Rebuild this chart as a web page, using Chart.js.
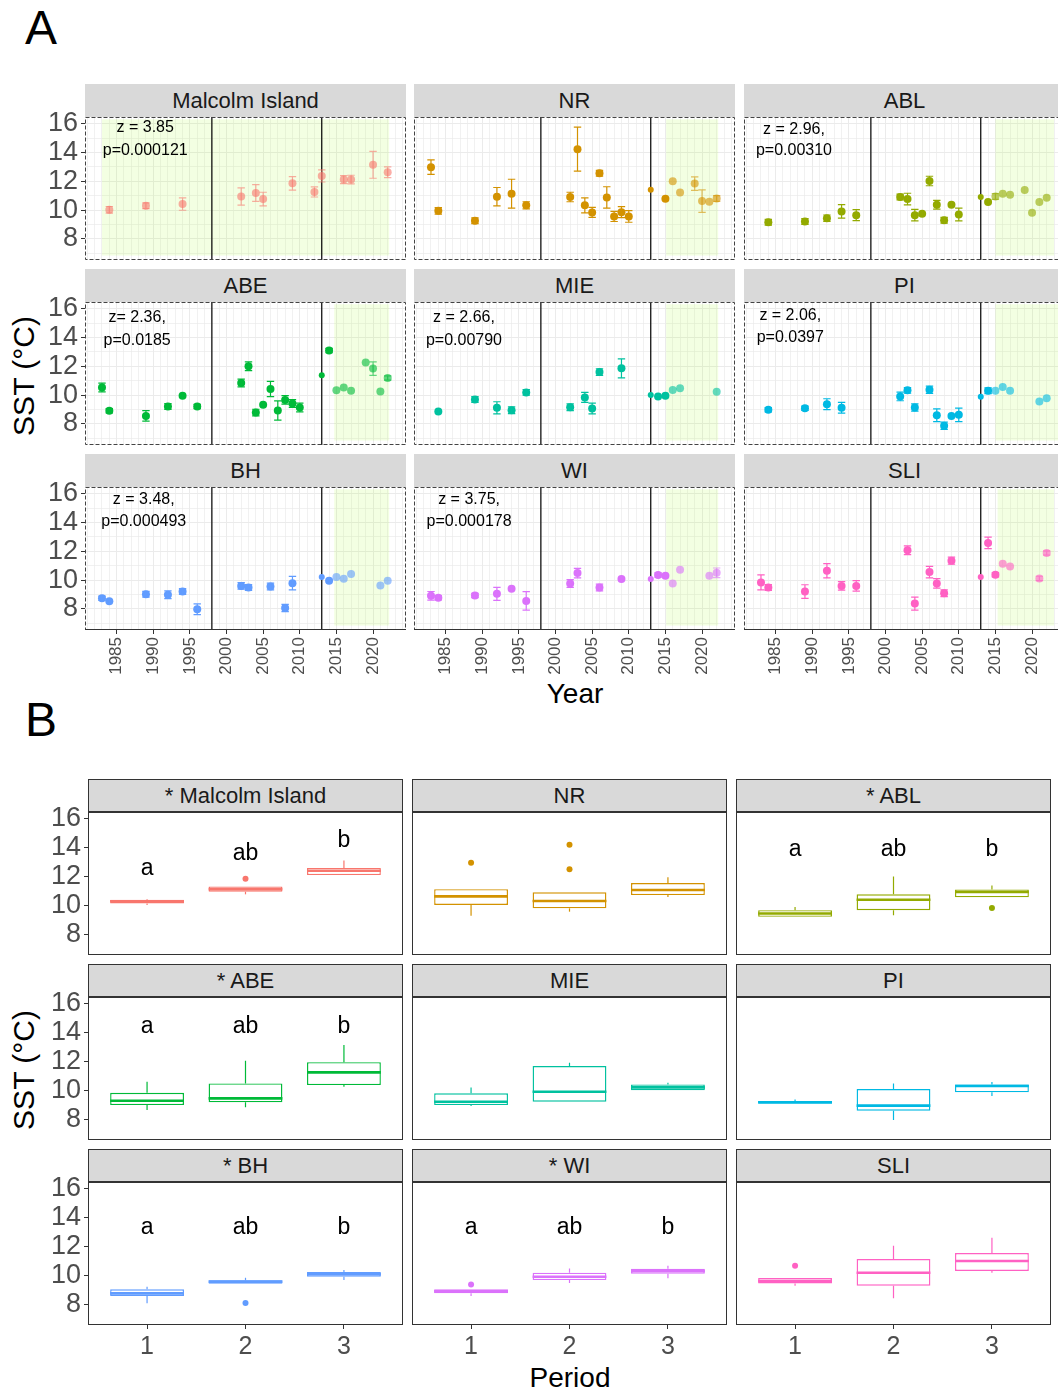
<!DOCTYPE html>
<html>
<head>
<meta charset="utf-8">
<script src="https://cdn.jsdelivr.net/npm/chart.js@4.4.1/dist/chart.umd.min.js"></script>
<style>
  html, body { margin: 0; padding: 0; background: #fff; }
  body { width: 1058px; height: 1391px; position: relative; overflow: hidden; font-family: "Liberation Sans", Arial, sans-serif; }
  canvas { position: absolute; }
  .strip { position: absolute; background: #d9d9d9; color: #1a1a1a; font-size: 22px; display: flex; align-items: center; justify-content: center; box-sizing: border-box; }
  .strip.b { border: 1px solid #333; }
  .lbl { position: absolute; transform: translate(-50%, -50%); white-space: nowrap; line-height: 1; color: #000; }
</style>
</head>
<body>
<div class="lbl" style="left:41px; top:28px; font-size:48px;">A</div>
<div class="lbl" style="left:41px; top:720px; font-size:48px;">B</div>
<div class="lbl" style="left:24px; top:376px; font-size:30px; transform:translate(-50%,-50%) rotate(-90deg);">SST (°C)</div>
<div class="lbl" style="left:24px; top:1070px; font-size:30px; transform:translate(-50%,-50%) rotate(-90deg);">SST (°C)</div>
<div class="lbl" style="left:575px; top:694px; font-size:28px;">Year</div>
<div class="lbl" style="left:570px; top:1378px; font-size:28px;">Period</div>

<script>
// ---- data ----
const sites = ['Malcolm Island', 'NR', 'ABL', 'ABE', 'MIE', 'PI', 'BH', 'WI', 'SLI'];
const boxTitles = ['* Malcolm Island', 'NR', '* ABL', '* ABE', 'MIE', 'PI', '* BH', '* WI', 'SLI'];
const siteColors = ['#F8766D', '#D39200', '#93AA00', '#00BA38', '#00C19F', '#00B9E3', '#619CFF', '#DB72FB', '#FF61C3'];

const yearLabels = [1985, 1990, 1995, 2000, 2005, 2010, 2015, 2020];
const sstLabels = [8, 10, 12, 14, 16];
const periods = [1, 2, 3];
const periodBreaks = [1998, 2013];

// [year, mean SST, error, kind]  kind: 0 = full colour, 1 = pale, 2 = small point on the break
const mi = [[1984, 10.02, 0.23, 1], [1989, 10.30, 0.2, 1], [1994, 10.42, 0.43, 1], [2002, 10.95, 0.6, 1], [2004, 11.19, 0.58, 1],
  [2005, 10.77, 0.47, 1], [2009, 11.86, 0.47, 1], [2012, 11.26, 0.35, 1], [2013, 12.37, 0.42, 1], [2016, 12.12, 0.28, 1],
  [2017, 12.12, 0.3, 1], [2020, 13.14, 0.93, 1], [2022, 12.63, 0.37, 1]];
const nr = [[1983, 12.98, 0.5, 0], [1984, 9.95, 0.23, 0], [1989, 9.26, 0.2, 0], [1992, 10.93, 0.64, 0], [1994, 11.14, 1.0, 0],
  [1996, 10.33, 0.25, 0], [2002, 10.91, 0.33, 0], [2003, 14.23, 1.53, 0], [2004, 10.33, 0.52, 0], [2005, 9.84, 0.35, 0],
  [2006, 12.56, 0.2, 0], [2007, 10.88, 0.74, 0], [2008, 9.56, 0.35, 0], [2009, 9.86, 0.38, 0], [2010, 9.56, 0.4, 0],
  [2013, 11.42, 0, 2], [2015, 10.79, 0, 0], [2016, 12.0, 0, 1], [2017, 11.23, 0, 1], [2019, 11.84, 0.47, 1],
  [2020, 10.63, 0.78, 1], [2021, 10.58, 0, 1], [2022, 10.81, 0.2, 1]];
const abl = [[1984, 9.16, 0.2, 0], [1989, 9.21, 0.2, 0], [1992, 9.44, 0.22, 0], [1994, 9.91, 0.47, 0], [1996, 9.65, 0.38, 0],
  [2002, 10.91, 0.2, 0], [2003, 10.77, 0.4, 0], [2004, 9.65, 0.4, 0], [2005, 9.74, 0, 0], [2006, 12.02, 0.33, 0],
  [2007, 10.37, 0.3, 0], [2008, 9.30, 0.2, 0], [2009, 10.37, 0, 0], [2010, 9.70, 0.44, 0], [2013, 10.91, 0, 2],
  [2014, 10.56, 0, 0], [2015, 10.95, 0.2, 1], [2016, 11.14, 0, 1], [2017, 11.07, 0, 1], [2019, 11.40, 0, 1],
  [2020, 9.81, 0, 1], [2021, 10.56, 0, 1], [2022, 10.86, 0, 1]];
const abe = [[1983, 10.53, 0.3, 0], [1984, 8.91, 0.15, 0], [1989, 8.56, 0.36, 0], [1992, 9.21, 0.2, 0], [1994, 9.95, 0, 0],
  [1996, 9.21, 0.15, 0], [2002, 10.84, 0.27, 0], [2003, 12.0, 0.3, 0], [2004, 8.79, 0.23, 0], [2005, 9.33, 0, 0],
  [2006, 10.42, 0.53, 0], [2007, 8.93, 0.67, 0], [2008, 9.67, 0.3, 0], [2009, 9.42, 0.27, 0], [2010, 9.14, 0.3, 0],
  [2013, 11.37, 0, 2], [2014, 13.09, 0.15, 0], [2015, 10.33, 0, 1], [2016, 10.53, 0, 1], [2017, 10.30, 0, 1],
  [2019, 12.26, 0, 1], [2020, 11.84, 0.47, 1], [2021, 10.26, 0, 1], [2022, 11.19, 0.15, 1]];
const mie = [[1984, 8.86, 0, 0], [1989, 9.70, 0.2, 0], [1992, 9.12, 0.42, 0], [1994, 8.95, 0.23, 0], [1996, 10.19, 0.2, 0],
  [2002, 9.16, 0.23, 0], [2004, 9.84, 0.35, 0], [2005, 9.07, 0.37, 0], [2006, 11.6, 0.23, 0], [2009, 11.86, 0.66, 0],
  [2013, 10.0, 0, 2], [2014, 9.91, 0, 0], [2015, 9.95, 0, 0], [2016, 10.35, 0, 1], [2017, 10.47, 0, 1], [2022, 10.23, 0, 1]];
const pi = [[1984, 8.98, 0.15, 0], [1989, 9.09, 0.15, 0], [1992, 9.37, 0.38, 0], [1994, 9.12, 0.37, 0], [2002, 9.91, 0.3, 0],
  [2003, 10.33, 0.2, 0], [2004, 9.14, 0.25, 0], [2006, 10.37, 0.25, 0], [2007, 8.6, 0.44, 0], [2008, 7.88, 0.25, 0],
  [2009, 8.56, 0, 0], [2010, 8.63, 0.47, 0], [2013, 9.88, 0, 2], [2014, 10.30, 0.2, 0], [2015, 10.30, 0, 1],
  [2016, 10.56, 0, 1], [2017, 10.30, 0, 1], [2021, 9.56, 0, 1], [2022, 9.79, 0, 1]];
const bh = [[1983, 8.74, 0.15, 0], [1984, 8.53, 0, 0], [1989, 9.02, 0.2, 0], [1992, 8.98, 0.27, 0], [1994, 9.21, 0.2, 0],
  [1996, 7.98, 0.37, 0], [2002, 9.6, 0.23, 0], [2003, 9.49, 0.2, 0], [2006, 9.56, 0.23, 0], [2008, 8.07, 0.25, 0],
  [2009, 9.79, 0.47, 0], [2013, 10.21, 0, 2], [2014, 9.95, 0, 0], [2015, 10.21, 0, 1], [2016, 10.09, 0, 1],
  [2017, 10.42, 0, 1], [2021, 9.63, 0, 1], [2022, 9.95, 0, 1]];
const wi = [[1983, 8.91, 0.3, 0], [1984, 8.77, 0.15, 0], [1989, 8.93, 0.15, 0], [1992, 9.05, 0.45, 0], [1994, 9.40, 0, 0],
  [1996, 8.56, 0.64, 0], [2002, 9.77, 0.27, 0], [2003, 10.49, 0.33, 0], [2006, 9.49, 0.23, 0], [2009, 10.07, 0, 0],
  [2013, 10.07, 0, 2], [2014, 10.35, 0.15, 0], [2015, 10.30, 0, 0], [2016, 9.77, 0, 1], [2017, 10.72, 0, 1],
  [2021, 10.30, 0, 1], [2022, 10.51, 0.33, 1]];
const sli = [[1983, 9.84, 0.52, 0], [1984, 9.49, 0.2, 0], [1989, 9.21, 0.47, 0], [1992, 10.65, 0.5, 0], [1994, 9.6, 0.3, 0],
  [1996, 9.6, 0.36, 0], [2003, 12.07, 0.3, 0], [2004, 8.37, 0.45, 0], [2006, 10.56, 0.4, 0], [2007, 9.77, 0.33, 0],
  [2008, 9.09, 0.23, 0], [2009, 11.35, 0.25, 0], [2013, 10.21, 0, 2], [2014, 12.58, 0.4, 0], [2015, 10.37, 0.15, 0],
  [2016, 11.14, 0, 1], [2017, 10.95, 0, 1], [2021, 10.12, 0.15, 1], [2022, 11.88, 0.15, 1]];
const trendSeries = [mi, nr, abl, abe, mie, pi, bh, wi, sli];

// shaded year span of each panel, and its SST extent
const shadeYears = [[1983, 2022.2], [2015.1, 2022.2], [2015, 2023], [2014.7, 2022.2], [2015.1, 2022.2],
  [2015, 2024], [2014.7, 2022.2], [2015.1, 2022.2], [2015.3, 2023]];
const shadeSst = [6.85, 16.3];

// [z text, p text, x, y of z, y of p]
const trendNotes = [['z = 3.85', 'p=0.000121', 1988.9, 15.72, 14.14], null, ['z = 2.96,', 'p=0.00310', 1987.5, 15.6, 14.14],
  ['z= 2.36,', 'p=0.0185', 1987.8, 15.37, 13.79], ['z = 2.66,', 'p=0.00790', 1987.5, 15.37, 13.79],
  ['z = 2.06,', 'p=0.0397', 1987.0, 15.49, 14.02], ['z = 3.48,', 'p=0.000493', 1988.7, 15.6, 14.09],
  ['z = 3.75,', 'p=0.000178', 1988.2, 15.6, 14.09], null];

// boxplots per period: [lower whisker, q1, median, q3, upper whisker]
const miBox = [[10.02, 10.12, 10.27, 10.38, 10.42], [10.75, 10.93, 11.11, 11.30, 11.30], [12.08, 12.08, 12.38, 12.58, 13.09]];
const nrBox = [[9.26, 10.01, 10.61, 11.11, 11.11], [9.55, 9.78, 10.29, 10.89, 10.89], [10.56, 10.70, 11.05, 11.53, 11.94]];
const ablBox = [[9.19, 9.19, 9.42, 9.65, 9.88], [9.30, 9.65, 10.38, 10.75, 11.99], [10.54, 10.54, 10.91, 11.09, 11.37]];
const abeBox = [[8.63, 8.97, 9.27, 9.82, 10.59], [8.81, 9.16, 9.43, 10.47, 12.04], [10.24, 10.35, 11.23, 11.94, 13.12]];
const mieBox = [[8.9, 8.97, 9.20, 9.78, 10.19], [9.2, 9.2, 9.89, 11.67, 11.9], [9.99, 9.99, 10.19, 10.40, 10.52]];
const piBox = [[9.06, 9.06, 9.16, 9.25, 9.36], [7.94, 8.58, 8.93, 10.08, 10.47], [9.6, 9.85, 10.29, 10.40, 10.56]];
const bhBox = [[8.05, 8.56, 8.74, 9.02, 9.2], [9.41, 9.41, 9.55, 9.64, 9.82], [9.66, 9.89, 10.06, 10.22, 10.35]];
const wiBox = [[8.56, 8.74, 8.88, 9.02, 9.02], [9.46, 9.66, 9.89, 10.17, 10.47], [9.78, 10.1, 10.29, 10.45, 10.65]];
const sliBox = [[9.27, 9.43, 9.59, 9.8, 9.8], [8.4, 9.27, 10.17, 11.12, 12.04], [10.17, 10.29, 10.98, 11.53, 12.59]];
const boxSeries = [miBox, nrBox, ablBox, abeBox, mieBox, piBox, bhBox, wiBox, sliBox];

// outliers: [period, SST]
const boxOutliers = [[[2, 11.83]], [[1, 12.93], [2, 14.19], [2, 12.49]], [[3, 9.81]], [], [], [], [[2, 8.07]], [[1, 9.36]], [[1, 10.65]]];

// compact letter display: letters and their SST heights per period
const boxLetters = [['a', 'ab', 'b'], null, ['a', 'ab', 'b'], ['a', 'ab', 'b'], null, null, ['a', 'ab', 'b'], ['a', 'ab', 'b'], null];
const letterSst = [[12.56, 13.6, 14.46], null, [13.84, 13.84, 13.84], [14.43, 14.43, 14.43], null, null,
  [13.28, 13.28, 13.28], [13.28, 13.28, 13.28], null];

// ---- layout ----
const A_COLS = [85, 414, 744], A_ROWS = [117, 302, 487], A_W = 321, A_H = 143;
const B_COLS = [88, 412, 736], B_ROWS = [812, 997, 1182], B_W = 315, B_H = 143;
const STRIP_H = 33;
const PAD = 20;
const FONT = '"Liberation Sans", Arial, sans-serif';
const YEAR_MIN = 1980.68, YEAR_MAX = 2024.5;
const SST_MIN = 6.54, SST_MAX = 16.46;

function fade(hex, a) {
  const n = parseInt(hex.slice(1), 16);
  return `rgba(${n >> 16}, ${(n >> 8) & 255}, ${n & 255}, ${a})`;
}

function addCanvas(left, top, w, h) {
  const c = document.createElement('canvas');
  c.width = w; c.height = h;
  c.style.left = left + 'px';
  c.style.top = top + 'px';
  c.style.width = w + 'px';
  c.style.height = h + 'px';
  document.body.appendChild(c);
  return c;
}

function addStrip(text, left, top, w, boxed) {
  const d = document.createElement('div');
  d.className = boxed ? 'strip b' : 'strip';
  d.style.left = left + 'px';
  d.style.top = top + 'px';
  d.style.width = w + 'px';
  d.style.height = STRIP_H + 'px';
  d.textContent = text;
  document.body.appendChild(d);
}

function baseOptions(padB) {
  return {
    responsive: false,
    animation: false,
    devicePixelRatio: 1,
    events: [],
    layout: { padding: { left: PAD, top: PAD, right: PAD, bottom: padB ? 0 : PAD } },
    plugins: { legend: { display: false }, tooltip: { enabled: false } }
  };
}

function trendChart(i) {
  const col = i % 3, row = Math.floor(i / 3);
  const padL = col === 0 ? 60 : 0;
  const padB = row === 2 ? 52 : 0;
  const canvas = addCanvas(A_COLS[col] - padL - PAD, A_ROWS[row] - PAD, PAD + padL + A_W + PAD, PAD + A_H + (padB || PAD));
  const pts = trendSeries[i];
  const color = siteColors[i];
  const soft = fade(color, 0.6);
  const strong = pts.filter(p => p[3] !== 1);
  const pale = pts.filter(p => p[3] === 1);

  const overlay = {
    id: 'trendOverlay',
    beforeDatasetsDraw(chart) {
      const { ctx, chartArea: a, scales: { x, y } } = chart;
      ctx.save();
      ctx.beginPath();
      ctx.rect(a.left, a.top, a.width, a.height);
      ctx.clip();
      const sh = shadeYears[i];
      const sx0 = x.getPixelForValue(sh[0]), sx1 = x.getPixelForValue(sh[1]);
      const sy0 = y.getPixelForValue(shadeSst[1]), sy1 = y.getPixelForValue(shadeSst[0]);
      ctx.fillStyle = 'rgba(173, 255, 47, 0.14)';
      ctx.fillRect(sx0, sy0, sx1 - sx0, sy1 - sy0);

      ctx.strokeStyle = '#000';
      ctx.lineWidth = 1.2;
      periodBreaks.forEach(b => {
        const px = x.getPixelForValue(b);
        ctx.beginPath();
        ctx.moveTo(px, a.top);
        ctx.lineTo(px, a.bottom);
        ctx.stroke();
      });

      ctx.lineWidth = 1.2;
      pts.forEach(p => {
        if (!p[2]) return;
        const px = x.getPixelForValue(p[0]);
        const lo = y.getPixelForValue(p[1] - p[2]);
        const hi = y.getPixelForValue(p[1] + p[2]);
        ctx.strokeStyle = p[3] === 1 ? soft : color;
        ctx.beginPath();
        ctx.moveTo(px, lo); ctx.lineTo(px, hi);
        ctx.moveTo(px - 3.7, lo); ctx.lineTo(px + 3.7, lo);
        ctx.moveTo(px - 3.7, hi); ctx.lineTo(px + 3.7, hi);
        ctx.stroke();
      });
      ctx.restore();
    },
    afterDatasetsDraw(chart) {
      const { ctx, chartArea: a, scales: { x, y } } = chart;
      ctx.save();
      const note = trendNotes[i];
      if (note) {
        ctx.fillStyle = '#000';
        ctx.font = `16px ${FONT}`;
        ctx.textAlign = 'center';
        ctx.textBaseline = 'middle';
        ctx.fillText(note[0], x.getPixelForValue(note[2]), y.getPixelForValue(note[3]));
        ctx.fillText(note[1], x.getPixelForValue(note[2]), y.getPixelForValue(note[4]));
      }
      ctx.strokeStyle = '#444';
      ctx.lineWidth = 1;
      ctx.setLineDash([4, 2]);
      ctx.strokeRect(a.left + 0.5, a.top + 0.5, a.width - 1, a.height - 1);
      if (row === 2) {
        ctx.setLineDash([]);
        ctx.strokeStyle = '#333';
        ctx.beginPath();
        ctx.moveTo(a.left, a.bottom - 0.5);
        ctx.lineTo(a.right, a.bottom - 0.5);
        ctx.stroke();
      }
      ctx.restore();
    }
  };

  const options = baseOptions(padB);
  options.scales = {
    x: {
      type: 'linear',
      min: YEAR_MIN,
      max: YEAR_MAX,
      border: { display: false },
      grid: {
        color: '#ebebeb',
        lineWidth: c => (c.tick && yearLabels.includes(c.tick.value)) ? 1 : 0.7,
        drawTicks: row === 2,
        tickLength: 4,
        tickWidth: 1,
        tickColor: c => (c.tick && yearLabels.includes(c.tick.value)) ? '#333' : 'transparent'
      },
      ticks: {
        display: row === 2,
        stepSize: 1,
        includeBounds: false,
        autoSkip: false,
        minRotation: 90,
        maxRotation: 90,
        padding: 3,
        color: '#4d4d4d',
        font: { family: FONT, size: 17 },
        callback: v => yearLabels.includes(v) ? String(v) : ''
      },
      afterFit: s => { s.height = padB; }
    },
    y: {
      type: 'linear',
      min: SST_MIN,
      max: SST_MAX,
      border: { display: false },
      grid: {
        color: '#ebebeb',
        lineWidth: c => (c.tick && sstLabels.includes(c.tick.value)) ? 1 : 0.7,
        drawTicks: col === 0,
        tickLength: 4,
        tickWidth: 1,
        tickColor: c => (c.tick && sstLabels.includes(c.tick.value)) ? '#333' : 'transparent'
      },
      ticks: {
        display: col === 0,
        stepSize: 1,
        includeBounds: false,
        autoSkip: false,
        padding: 3,
        color: '#4d4d4d',
        font: { family: FONT, size: 27 },
        callback: v => sstLabels.includes(v) ? String(v) : ''
      },
      afterFit: s => { s.width = padL; }
    }
  };

  new Chart(canvas, {
    type: 'scatter',
    data: {
      datasets: [
        {
          data: strong.map(p => ({ x: p[0], y: p[1] })),
          backgroundColor: color,
          borderWidth: 0,
          pointRadius: strong.map(p => p[3] === 2 ? 3 : 4)
        },
        {
          data: pale.map(p => ({ x: p[0], y: p[1] })),
          backgroundColor: soft,
          borderWidth: 0,
          pointRadius: 4
        }
      ]
    },
    options,
    plugins: [overlay]
  });

  addStrip(sites[i], A_COLS[col], A_ROWS[row] - STRIP_H, A_W, false);
}

function boxChart(i) {
  const col = i % 3, row = Math.floor(i / 3);
  const padL = col === 0 ? 60 : 0;
  const padB = row === 2 ? 40 : 0;
  const canvas = addCanvas(B_COLS[col] - padL - PAD, B_ROWS[row] - PAD, PAD + padL + B_W + PAD, PAD + B_H + (padB || PAD));
  const boxes = boxSeries[i];
  const color = siteColors[i];

  const overlay = {
    id: 'boxOverlay',
    beforeDatasetsDraw(chart) {
      const { ctx, scales: { x, y } } = chart;
      ctx.save();
      ctx.strokeStyle = color;
      ctx.lineWidth = 1.2;
      boxes.forEach((b, k) => {
        const px = x.getPixelForValue(periods[k]);
        ctx.beginPath();
        ctx.moveTo(px, y.getPixelForValue(b[0]));
        ctx.lineTo(px, y.getPixelForValue(b[1]));
        ctx.moveTo(px, y.getPixelForValue(b[3]));
        ctx.lineTo(px, y.getPixelForValue(b[4]));
        ctx.stroke();
      });
      ctx.restore();
    },
    afterDatasetsDraw(chart) {
      const { ctx, chartArea: a, scales: { x, y } } = chart;
      ctx.save();
      const bars = chart.getDatasetMeta(0).data;
      ctx.strokeStyle = color;
      ctx.lineWidth = 2.6;
      boxes.forEach((b, k) => {
        const { x: bx, width } = bars[k].getProps(['x', 'width'], true);
        const py = y.getPixelForValue(b[2]);
        ctx.beginPath();
        ctx.moveTo(bx - width / 2, py);
        ctx.lineTo(bx + width / 2, py);
        ctx.stroke();
      });
      const letters = boxLetters[i];
      if (letters) {
        ctx.fillStyle = '#000';
        ctx.font = `23px ${FONT}`;
        ctx.textAlign = 'center';
        ctx.textBaseline = 'middle';
        letters.forEach((t, k) => {
          ctx.fillText(t, x.getPixelForValue(periods[k]), y.getPixelForValue(letterSst[i][k]));
        });
      }
      ctx.strokeStyle = '#333';
      ctx.lineWidth = 1;
      ctx.strokeRect(a.left + 0.5, a.top + 0.5, a.width - 1, a.height - 1);
      ctx.restore();
    }
  };

  const options = baseOptions(padB);
  options.scales = {
    x: {
      type: 'linear',
      min: 0.4,
      max: 3.6,
      offset: false,
      border: { display: false },
      grid: { display: row === 2, offset: false, drawOnChartArea: false, drawTicks: true, tickLength: 4, tickColor: '#333' },
      ticks: {
        display: row === 2,
        stepSize: 1,
        includeBounds: false,
        autoSkip: false,
        maxRotation: 0,
        padding: 3,
        color: '#4d4d4d',
        font: { family: FONT, size: 25 },
        callback: v => periods.includes(v) ? String(v) : ''
      },
      afterFit: s => { s.height = padB; }
    },
    y: {
      type: 'linear',
      min: 6.55,
      max: 16.45,
      border: { display: false },
      grid: { display: col === 0, drawOnChartArea: false, drawTicks: true, tickLength: 4, tickColor: '#333' },
      ticks: {
        display: col === 0,
        stepSize: 2,
        includeBounds: false,
        autoSkip: false,
        padding: 3,
        color: '#4d4d4d',
        font: { family: FONT, size: 27 },
        callback: v => sstLabels.includes(v) ? String(v) : ''
      },
      afterFit: s => { s.width = padL; }
    }
  };

  new Chart(canvas, {
    type: 'bar',
    data: {
      datasets: [
        {
          type: 'bar',
          data: boxes.map((b, k) => ({ x: periods[k], y: [b[1], b[3]] })),
          backgroundColor: '#fff',
          borderColor: color,
          borderWidth: 1.4,
          borderSkipped: false,
          barPercentage: 0.75,
          categoryPercentage: 1
        },
        {
          type: 'scatter',
          data: boxOutliers[i].map(o => ({ x: o[0], y: o[1] })),
          backgroundColor: color,
          borderWidth: 0,
          pointRadius: 3
        }
      ]
    },
    options,
    plugins: [overlay]
  });

  addStrip(boxTitles[i], B_COLS[col], B_ROWS[row] - STRIP_H, B_W, true);
}

sites.forEach((_, i) => trendChart(i));
sites.forEach((_, i) => boxChart(i));
</script>
</body>
</html>
